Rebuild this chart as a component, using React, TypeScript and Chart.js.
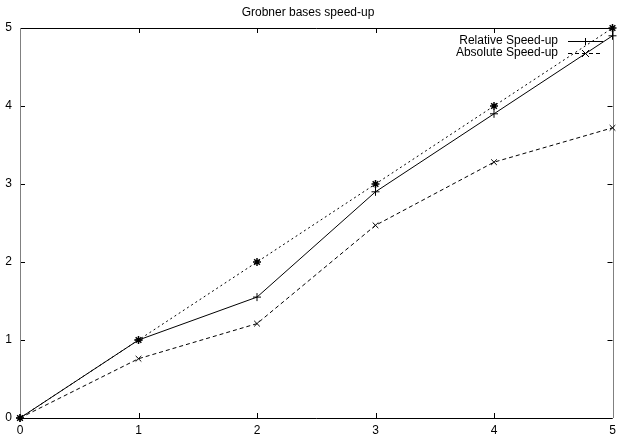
import React, { useEffect, useRef } from "react";
import { Chart, registerables } from "chart.js";

Chart.register(...registerables);

const xValues = [0, 1, 2, 3, 4, 5];
const relativeSpeedup = [0, 1, 1.55, 2.9, 3.9, 4.9];
const absoluteSpeedup = [0, 0.76, 1.21, 2.47, 3.28, 3.72];
const idealSpeedup = [0, 1, 2, 3, 4, 5];
const tickValues = [0, 1, 2, 3, 4, 5];
const titleText = "Grobner bases speed-up";
const legendLabels = ["Relative Speed-up", "Absolute Speed-up"];

const FONT = "'Liberation Sans', Arial, Helvetica, sans-serif";

const framePlugin = {
  id: "gnuframe",
  beforeDatasetsDraw(chart: any) {
    const { ctx, chartArea } = chart;
    const { left, right, top, bottom } = chartArea;
    const xs = chart.scales.x;
    const ys = chart.scales.y;
    const tl = 5;
    ctx.save();
    ctx.lineWidth = 1;
    ctx.setLineDash([]);
    ctx.strokeStyle = "#000";
    ctx.beginPath();
    for (const v of tickValues) {
      const px = Math.round(xs.getPixelForValue(v)) + 0.5;
      ctx.moveTo(px, bottom);
      ctx.lineTo(px, bottom - tl);
      ctx.moveTo(px, top);
      ctx.lineTo(px, top + tl);
      const py = Math.round(ys.getPixelForValue(v)) + 0.5;
      ctx.moveTo(left, py);
      ctx.lineTo(left + tl, py);
      ctx.moveTo(right, py);
      ctx.lineTo(right - tl, py);
    }
    ctx.stroke();
    ctx.beginPath();
    ctx.moveTo(left, Math.round(top) + 0.5);
    ctx.lineTo(right, Math.round(top) + 0.5);
    ctx.moveTo(left, Math.round(bottom) + 0.5);
    ctx.lineTo(right, Math.round(bottom) + 0.5);
    ctx.stroke();
    ctx.strokeStyle = "#808080";
    ctx.beginPath();
    ctx.moveTo(Math.round(left) + 0.5, top);
    ctx.lineTo(Math.round(left) + 0.5, bottom);
    ctx.moveTo(Math.round(right) + 0.5, top);
    ctx.lineTo(Math.round(right) + 0.5, bottom);
    ctx.stroke();
    ctx.restore();
  },
  afterDraw(chart: any) {
    const { ctx } = chart;
    ctx.save();
    ctx.font = `12px ${FONT}`;
    ctx.fillStyle = "#000";
    ctx.textAlign = "right";
    ctx.textBaseline = "middle";
    const rows = [
      { y: 41, dash: [] as number[], style: "cross" },
      { y: 53, dash: [4, 3], style: "crossRot" },
    ];
    rows.forEach((r, i) => {
      ctx.fillText(legendLabels[i], 558, r.y);
      ctx.strokeStyle = "#000";
      ctx.lineWidth = 1;
      ctx.setLineDash(r.dash);
      ctx.beginPath();
      ctx.moveTo(568, r.y + 0.5);
      ctx.lineTo(603, r.y + 0.5);
      ctx.stroke();
      ctx.setLineDash([]);
      ctx.beginPath();
      const cx = 585.5;
      const cy = r.y + 0.5;
      const s = 3.5;
      if (r.style === "cross") {
        ctx.moveTo(cx - s, cy);
        ctx.lineTo(cx + s, cy);
        ctx.moveTo(cx, cy - s);
        ctx.lineTo(cx, cy + s);
      } else {
        ctx.moveTo(cx - s, cy - s);
        ctx.lineTo(cx + s, cy + s);
        ctx.moveTo(cx - s, cy + s);
        ctx.lineTo(cx + s, cy - s);
      }
      ctx.stroke();
    });
    ctx.restore();
  },
};

export default function App() {
  const ref = useRef<HTMLCanvasElement | null>(null);
  useEffect(() => {
    if (!ref.current) return;
    const mk = (vals: number[]) => xValues.map((x, i) => ({ x, y: vals[i] }));
    const chart = new Chart(ref.current, {
      type: "line",
      data: {
        datasets: [
          {
            label: legendLabels[0],
            data: mk(relativeSpeedup),
            borderColor: "#000",
            borderWidth: 1,
            pointStyle: "cross",
            pointRadius: 4,
            pointBorderWidth: 1,
            pointBorderColor: "#000",
            fill: false,
            tension: 0,
            clip: false as any,
          },
          {
            label: legendLabels[1],
            data: mk(absoluteSpeedup),
            borderColor: "#000",
            borderWidth: 1,
            borderDash: [4, 3],
            pointStyle: "crossRot",
            pointRadius: 4,
            pointBorderWidth: 1,
            pointBorderColor: "#000",
            fill: false,
            tension: 0,
            clip: false as any,
          },
          {
            label: "Ideal",
            data: mk(idealSpeedup),
            borderColor: "#000",
            borderWidth: 1,
            borderDash: [2, 3],
            pointStyle: "star",
            pointRadius: 4,
            pointBorderWidth: 1.5,
            pointBorderColor: "#000",
            fill: false,
            tension: 0,
            clip: false as any,
          },
        ],
      },
      options: {
        animation: false,
        responsive: false,
        maintainAspectRatio: false,
        layout: { padding: { left: 0, right: 2, top: 0, bottom: 0 } },
        plugins: {
          legend: { display: false },
          tooltip: { enabled: false },
          title: {
            display: true,
            text: titleText,
            color: "#000",
            font: { family: FONT, size: 12, weight: "normal" as any },
            padding: { top: 5, bottom: 8.6 },
          },
        },
        scales: {
          x: {
            type: "linear",
            min: 0,
            max: 5,
            grid: { display: false, drawTicks: false, tickLength: 0 },
            border: { display: false },
            ticks: {
              stepSize: 1,
              color: "#000",
              font: { family: FONT, size: 12 },
              padding: 5,
              maxRotation: 0,
              autoSkip: false,
            },
            afterFit: (s: any) => {
              s.height = 19;
              s.paddingLeft = 0;
              s.paddingRight = 0;
            },
          },
          y: {
            type: "linear",
            min: 0,
            max: 5,
            grid: { display: false, drawTicks: false, tickLength: 0 },
            border: { display: false },
            ticks: {
              stepSize: 1,
              color: "#000",
              font: { family: FONT, size: 12 },
              padding: 8,
            },
            afterFit: (s: any) => {
              s.width = 20;
              s.paddingTop = 0;
              s.paddingBottom = 0;
            },
          },
        },
      },
      plugins: [framePlugin],
    });
    return () => chart.destroy();
  }, []);
  return (
    <div style={{ position: "fixed", left: 0, top: 0, width: 618, height: 437, background: "#fff" }}>
      <canvas ref={ref} width={618} height={437} style={{ width: 618, height: 437 }} />
    </div>
  );
}
